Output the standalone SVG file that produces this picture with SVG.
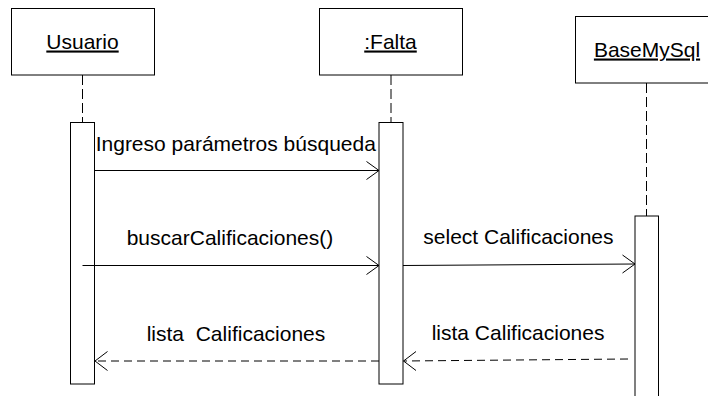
<svg xmlns="http://www.w3.org/2000/svg" width="708" height="396" viewBox="0 0 708 396">
<defs>
<style>
text{font-family:"Liberation Sans",Arial,sans-serif;font-size:21px;fill:#000}
.obj{fill:#fff;stroke:#000;stroke-width:1}
.name{text-anchor:middle;text-decoration:underline}
.life{stroke:#000;stroke-width:1;stroke-dasharray:10,4;fill:none}
.act{fill:#fff;stroke:#000;stroke-width:1}
.msg{stroke:#000;stroke-width:1;fill:none}
.ret{stroke:#000;stroke-width:1;fill:none;stroke-dasharray:8,5}
.head{stroke:#000;stroke-width:1;fill:none}
</style>
</defs>
<rect width="708" height="396" fill="#fff"/>
<g id="usuario">
<rect class="obj" x="11.5" y="8.5" width="143" height="66.5"/>
<text class="name" x="82.5" y="48.5">Usuario</text>
<line class="life" x1="82.5" y1="75" x2="82.5" y2="122.5"/>
<rect class="act" x="70.5" y="122.5" width="24" height="261.5"/>
</g>
<g id="falta">
<rect class="obj" x="319.5" y="8.5" width="143" height="66.5"/>
<text class="name" x="390.5" y="48.5">:Falta</text>
<line class="life" x1="391" y1="75" x2="391" y2="122.5"/>
<rect class="act" x="379" y="122.5" width="24" height="261.5"/>
</g>
<g id="basemysql">
<rect class="obj" x="575.5" y="16.5" width="143" height="66.5"/>
<text class="name" x="647" y="56.5">BaseMySql</text>
<line class="life" x1="646.5" y1="83" x2="646.5" y2="216"/>
<rect class="act" x="635" y="216" width="23.5" height="190"/>
</g>
<g id="connectors">
<rect x="95.5" y="129" width="282" height="27" fill="#fff"/>
<text x="95.7" y="150.5">Ingreso parámetros búsqueda</text>
<line class="msg" x1="94.5" y1="170.5" x2="379" y2="170.5"/>
<polyline class="head" points="366.5,161.5 379,170.5 366.5,179.5"/>

<text x="126.7" y="245">buscarCalificaciones()</text>
<line class="msg" x1="82.5" y1="265.5" x2="379" y2="265.5"/>
<polyline class="head" points="366.5,256.5 379,265.5 366.5,274.5"/>

<text x="423.3" y="244">select Calificaciones</text>
<line class="msg" x1="403" y1="265.5" x2="635" y2="264"/>
<polyline class="head" points="622.5,255 635,264 622.5,273"/>

<text x="431.7" y="340" xml:space="preserve">lista Calificaciones</text>
<line class="ret" x1="628" y1="359" x2="403.5" y2="361"/>
<polyline class="head" points="416,351.5 403.5,361 416,370.5"/>

<text x="146.7" y="340.5" xml:space="preserve" style="white-space:pre">lista  Calificaciones</text>
<line class="ret" x1="379" y1="361" x2="95" y2="361"/>
<polyline class="head" points="107.5,351.5 95,361 107.5,370.5"/>
</g>
</svg>
